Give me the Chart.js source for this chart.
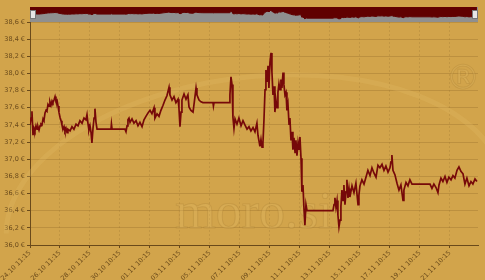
<!DOCTYPE html>
<html>
<head>
<meta charset="utf-8">
<script src="https://cdn.jsdelivr.net/npm/chart.js@4/dist/chart.umd.min.js"></script>
<style>
  html, body { margin: 0; padding: 0; background: #d2a44b; }
  #wrap { position: relative; width: 485px; height: 280px; }
  #navChart { position: absolute; left: 30px; top: 7px; background: #8f8f8f; }
  #mainChart { position: absolute; left: 0; top: 0; }
</style>
</head>
<body>
<div id="wrap">
  <canvas id="mainChart" width="485" height="280"></canvas>
  <canvas id="navChart" width="448" height="15"></canvas>
</div>
<script>
// x tick labels, one every 2 days
const xLabels = ['24.10 11:15', '26.10 11:15', '28.10 11:15', '30.10 10:15', '01.11 10:15',
  '03.11 10:15', '05.11 10:15', '07.11 10:15', '09.11 10:15', '11.11 10:15',
  '13.11 10:15', '15.11 10:15', '17.11 10:15', '19.11 10:15', '21.11 10:15'];

// days since 24.10 11:15
const sessionDays = [
  0.00, 0.07, 0.13, 0.20, 0.27, 0.33, 0.40, 0.47, 0.53, 0.60,
  0.67, 0.73, 0.80, 0.87, 0.93, 1.00, 1.07, 1.13, 1.20, 1.27,
  1.33, 1.40, 1.47, 1.53, 1.60, 1.67, 1.73, 1.80, 1.87, 1.93,
  2.00, 2.07, 2.13, 2.20, 2.27, 2.33, 2.40, 2.47, 2.53, 2.67,
  2.80, 2.93, 3.07, 3.20, 3.33, 3.47, 3.60, 3.73, 3.80, 3.87,
  3.93, 4.00, 4.07, 4.13, 4.20, 4.27, 4.33, 4.40, 4.47, 5.40,
  5.43, 5.47, 6.33, 6.40, 6.47, 6.53, 6.60, 6.67, 6.80, 6.93,
  7.07, 7.20, 7.33, 7.47, 7.60, 7.73, 7.87, 8.00, 8.13, 8.27,
  8.33, 8.47, 8.60, 8.73, 8.87, 9.00, 9.13, 9.27, 9.33, 9.47,
  9.60, 9.73, 9.87, 9.93, 10.00, 10.07, 10.13, 10.27, 10.40, 10.53,
  10.60, 10.73, 10.87, 11.00, 11.07, 11.13, 11.27, 11.40, 11.53, 12.20,
  12.23, 12.27, 13.27, 13.33, 13.40, 13.47, 13.53, 13.60, 13.67, 13.80,
  13.93, 14.07, 14.20, 14.33, 14.47, 14.60, 14.73, 14.87, 15.00, 15.13,
  15.20, 15.27, 15.33, 15.40, 15.47, 15.53, 15.60, 15.67, 15.73, 15.80,
  15.87, 15.93, 16.00, 16.07, 16.13, 16.20, 16.27, 16.33, 16.40, 16.47,
  16.53, 16.60, 16.67, 16.73, 16.80, 16.87, 16.93, 17.00, 17.07, 17.13,
  17.20, 17.27, 17.33, 17.40, 17.47, 17.53, 17.60, 17.67, 17.73, 17.80,
  17.87, 17.93, 18.00, 18.07, 18.13, 18.20, 18.27, 18.33, 18.40, 18.47,
  20.20, 20.27, 20.33, 20.40, 20.47, 20.53, 20.60, 20.67, 20.73, 20.80,
  20.87, 20.93, 21.00, 21.07, 21.13, 21.20, 21.27, 21.33, 21.47, 21.60,
  21.73, 21.87, 21.93, 22.00, 22.13, 22.27, 22.40, 22.53, 22.67, 22.80,
  22.93, 23.07, 23.20, 23.33, 23.47, 23.60, 23.73, 23.87, 24.00, 24.07,
  24.13, 24.20, 24.33, 24.47, 24.60, 24.73, 24.87, 24.93, 25.07, 25.20,
  25.33, 25.47, 26.67, 26.80, 26.93, 27.07, 27.20, 27.27, 27.40, 27.53,
  27.67, 27.80, 27.93, 28.07, 28.20, 28.33, 28.47, 28.60, 28.73, 28.87,
  29.00, 29.13, 29.27, 29.40, 29.53, 29.67, 29.80
];

// price in EUR
const prices = [
  37.40, 37.48, 37.56, 37.28, 37.36, 37.33, 37.39, 37.35, 37.38, 37.34,
  37.39, 37.41, 37.40, 37.47, 37.45, 37.54, 37.57, 37.56, 37.64, 37.62,
  37.67, 37.63, 37.68, 37.66, 37.69, 37.73, 37.68, 37.69, 37.62, 37.55,
  37.49, 37.45, 37.40, 37.35, 37.38, 37.33, 37.36, 37.31, 37.35, 37.33,
  37.38, 37.35, 37.41, 37.39, 37.45, 37.42, 37.48, 37.46, 37.52, 37.41,
  37.34, 37.39, 37.31, 37.19, 37.36, 37.48, 37.59, 37.43, 37.35, 37.35,
  37.41, 37.35, 37.35, 37.32, 37.39, 37.46, 37.48, 37.43, 37.47, 37.42,
  37.45, 37.39, 37.43, 37.38, 37.46, 37.50, 37.54, 37.57, 37.53, 37.60,
  37.48, 37.53, 37.50, 37.57, 37.63, 37.69, 37.74, 37.84, 37.75, 37.69,
  37.73, 37.66, 37.70, 37.60, 37.38, 37.55, 37.69, 37.76, 37.70, 37.75,
  37.61, 37.57, 37.55, 37.73, 37.83, 37.75, 37.69, 37.67, 37.66, 37.66,
  37.62, 37.66, 37.66, 37.75, 37.96, 37.87, 37.49, 37.36, 37.47, 37.41,
  37.48, 37.39, 37.45, 37.40, 37.35, 37.38, 37.33, 37.37, 37.32, 37.42,
  37.28, 37.21, 37.15, 37.23, 37.14, 37.18, 37.46, 37.81, 38.04, 37.90,
  38.09, 37.83, 38.13, 38.24, 38.02, 37.75, 37.85, 37.55, 37.69, 37.60,
  37.78, 37.88, 37.81, 37.93, 37.83, 38.01, 37.87, 37.75, 37.78, 37.57,
  37.64, 37.41, 37.48, 37.22, 37.32, 37.11, 37.25, 37.08, 37.22, 37.04,
  37.19, 37.11, 37.26, 37.01, 36.62, 36.70, 36.41, 36.23, 36.47, 36.40,
  36.40, 36.47, 36.55, 36.44, 36.52, 36.35, 36.21, 36.29, 36.45, 36.64,
  36.52, 36.70, 36.47, 36.62, 36.76, 36.55, 36.66, 36.56, 36.69, 36.61,
  36.72, 36.47, 36.58, 36.69, 36.76, 36.71, 36.79, 36.87, 36.81, 36.90,
  36.84, 36.79, 36.93, 36.90, 36.94, 36.87, 36.92, 36.85, 36.90, 36.97,
  37.05, 36.87, 36.82, 36.72, 36.64, 36.70, 36.52, 36.64, 36.73, 36.69,
  36.76, 36.71, 36.71, 36.66, 36.71, 36.67, 36.61, 36.70, 36.78, 36.74,
  36.80, 36.73, 36.79, 36.76, 36.81, 36.78, 36.87, 36.91, 36.86, 36.83,
  36.71, 36.78, 36.69, 36.74, 36.71, 36.77, 36.74
];

const xMax = 29.87;
const textColor = '#6a4a1b';
const lineColor = '#760909';

const points = sessionDays.map((d, i) => ({ x: d, y: prices[i] }));
const navPoints = sessionDays.map((d, i) => ({ x: d, y: prices[i] }));

// faint moro.si watermark behind the line
const watermark = {
  id: 'watermark',
  beforeDatasetsDraw(chart) {
    const ctx = chart.ctx;
    const a = chart.chartArea;
    ctx.save();
    ctx.textAlign = 'center';
    ctx.textBaseline = 'alphabetic';
    // big coin ring
    ctx.beginPath();
    ctx.ellipse(a.left + 225, a.top + 190, 250, 135, -0.12, Math.PI * 1.02, Math.PI * 1.98);
    ctx.lineWidth = 5;
    ctx.strokeStyle = 'rgba(225,185,100,0.3)';
    ctx.stroke();
    ctx.fillStyle = 'rgba(225,185,100,0.35)';
    ctx.strokeStyle = 'rgba(150,110,40,0.22)';
    ctx.lineWidth = 1;
    ctx.font = '52px "Liberation Serif", serif';
    const cx = (a.left + a.right) / 2;
    ctx.fillText('moro.si', cx, a.bottom - 17);
    ctx.strokeText('moro.si', cx, a.bottom - 17);
    ctx.font = '34px "DejaVu Sans", sans-serif';
    ctx.fillText('\u00AE', a.right - 15, a.top + 67);
    ctx.strokeText('\u00AE', a.right - 15, a.top + 67);
    ctx.restore();
  }
};

new Chart(document.getElementById('mainChart'), {
  type: 'line',
  data: {
    datasets: [{
      data: points,
      borderColor: lineColor,
      borderWidth: 1.7,
      pointRadius: 0,
      tension: 0,
      fill: false
    }]
  },
  options: {
    responsive: false,
    animation: false,
    layout: { padding: { top: 22, right: 7, left: 0, bottom: 0 } },
    plugins: { legend: { display: false }, tooltip: { enabled: false } },
    scales: {
      x: {
        type: 'linear',
        min: 0,
        max: xMax,
        afterFit: (s) => { s.height = 35; },
        grid: { color: 'rgba(160,120,50,0.3)', tickLength: 3, tickColor: '#6a4a1b' },
        border: { color: '#6a4a1b', width: 1, dash: [2, 2] },
        ticks: {
          stepSize: 2,
          includeBounds: false,
          autoSkip: false,
          minRotation: 45,
          maxRotation: 45,
          padding: 1,
          color: textColor,
          font: { family: '"DejaVu Sans", sans-serif', size: 6.5 },
          callback: (v) => xLabels[Math.round(v / 2)]
        }
      },
      y: {
        min: 36.0,
        max: 38.6,
        afterFit: (s) => { s.width = 30; },
        grid: { color: 'rgba(140,100,35,0.3)', tickLength: 3, tickColor: '#6a4a1b' },
        border: { color: '#6a4a1b', width: 1 },
        ticks: {
          stepSize: 0.2,
          padding: 2,
          color: textColor,
          font: { family: '"DejaVu Sans", sans-serif', size: 6.5 },
          callback: (v) => v.toFixed(1).replace('.', ',') + ' \u20AC'
        }
      }
    }
  },
  plugins: [watermark]
});

// navigator strip: small handles at both ends
const handles = {
  id: 'handles',
  afterDraw(chart) {
    const ctx = chart.ctx;
    const a = chart.chartArea;
    ctx.save();
    ctx.fillStyle = '#e6e6e6';
    ctx.strokeStyle = '#777';
    ctx.lineWidth = 1;
    [a.left + 0.5, a.right - 5.5].forEach((x) => {
      ctx.fillRect(x, 3.5, 5, 8);
      ctx.strokeRect(x, 3.5, 5, 8);
    });
    ctx.restore();
  }
};

new Chart(document.getElementById('navChart'), {
  type: 'line',
  data: {
    datasets: [{
      data: navPoints,
      borderColor: '#600000',
      borderWidth: 1,
      backgroundColor: '#600000',
      pointRadius: 0,
      fill: 'end'
    }]
  },
  options: {
    responsive: false,
    animation: false,
    layout: { padding: 0 },
    plugins: { legend: { display: false }, tooltip: { enabled: false } },
    scales: {
      x: { type: 'linear', display: false, min: 0, max: xMax },
      y: { display: false, min: 35.5, max: 39.0 }
    }
  },
  plugins: [handles]
});
</script>
</body>
</html>
